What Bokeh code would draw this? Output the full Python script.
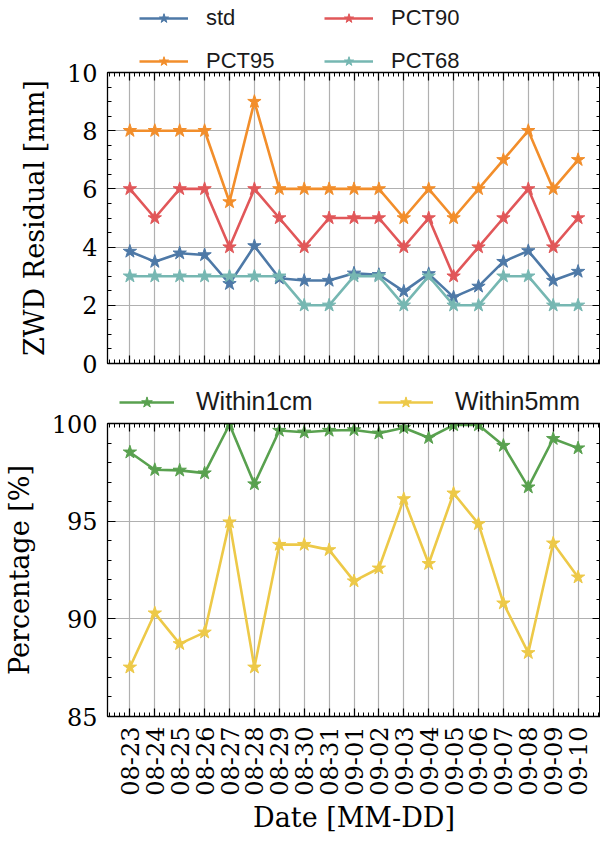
import numpy as np
from bokeh.plotting import figure
from bokeh.models import Range1d, LinearAxis, FixedTicker, Legend, LegendItem
from bokeh.layouts import column
from bokeh.embed import file_html
from bokeh.resources import INLINE

dates = ["08-23", "08-24", "08-25", "08-26", "08-27", "08-28", "08-29", "08-30", "08-31",
         "09-01", "09-02", "09-03", "09-04", "09-05", "09-06", "09-07", "09-08", "09-09", "09-10"]
std = [3.85, 3.50, 3.79, 3.73, 2.74, 4.04, 2.93, 2.85, 2.85, 3.10, 3.05, 2.48, 3.08, 2.28, 2.65, 3.50, 3.87, 2.85, 3.16]
pct95 = [8, 8, 8, 8, 5.55, 9, 6, 6, 6, 6, 6, 5, 6, 5, 6, 7, 8, 6, 7]
pct90 = [6, 5, 6, 6, 4, 6, 5, 4, 5, 5, 5, 4, 5, 3, 4, 5, 6, 4, 5]
pct68 = [3, 3, 3, 3, 3, 3, 3, 2, 2, 3, 3, 2, 3, 2, 2, 3, 3, 2, 2]
within1cm = [98.53, 97.63, 97.60, 97.46, 99.95, 96.90, 99.64, 99.55, 99.64, 99.67, 99.50, 99.78,
             99.27, 99.92, 99.92, 98.87, 96.74, 99.22, 98.74]
within5mm = [87.52, 90.29, 88.72, 89.31, 94.95, 87.52, 93.80, 93.80, 93.53, 91.93, 92.59, 96.14,
             92.82, 96.43, 94.86, 90.80, 88.26, 93.87, 92.13]
top_yticks = [0, 2, 4, 6, 8, 10]
bot_yticks = [85, 90, 95, 100]

x = list(range(len(dates)))

C_STD = "#4e79a7"
C_95 = "#f28e2b"
C_90 = "#e15759"
C_68 = "#76b7b2"
C_1CM = "#59a14f"
C_5MM = "#edc948"

SERIF = "DejaVu Serif"
SANS = "Liberation Sans"
LEFT = 92

x_ticker = FixedTicker(ticks=x, minor_ticks=list(np.round(np.arange(-0.8, 18.81, 0.2), 3)))


def style_axis(ax, show_labels, ticker):
    ax.ticker = ticker
    ax.axis_line_color = "black"
    ax.axis_line_width = 1.3
    ax.major_tick_in = 8
    ax.major_tick_out = 0
    ax.minor_tick_in = 4
    ax.minor_tick_out = 0
    ax.major_tick_line_color = "black"
    ax.major_tick_line_width = 1.2
    ax.minor_tick_line_color = "black"
    ax.minor_tick_line_width = 1.0
    if show_labels:
        ax.major_label_text_font = SERIF
        ax.major_label_text_font_size = "24px"
        ax.major_label_text_color = "black"
        ax.major_label_standoff = 10
    else:
        ax.major_label_overrides = {t: "" for t in ticker.ticks}
        ax.major_label_text_font_size = "1px"
        ax.major_label_standoff = 0


def make_fig(height, yr, yticker, b_top, b_bottom, ylabel, show_xlabels, margin_top):
    p = figure(width=600, height=height, x_range=Range1d(-0.9, 18.9), y_range=yr,
               output_backend="svg", toolbar_location=None, margin=(margin_top, 0, 0, 0),
               min_border_left=LEFT, min_border_right=0, min_border_top=b_top, min_border_bottom=b_bottom)
    p.outline_line_color = "black"
    p.background_fill_color = "white"
    p.border_fill_alpha = 0
    xb = p.below[0]
    yl = p.left[0]
    style_axis(xb, show_xlabels, x_ticker)
    style_axis(yl, True, yticker)
    yl.axis_label = ylabel
    yl.axis_label_text_font = SERIF
    yl.axis_label_text_font_size = "27px"
    yl.axis_label_text_font_style = "normal"
    yl.axis_label_text_color = "black"
    yl.axis_label_standoff = 14
    top_ax = LinearAxis()
    right_ax = LinearAxis()
    style_axis(top_ax, False, x_ticker)
    style_axis(right_ax, False, yticker)
    p.add_layout(top_ax, "above")
    p.add_layout(right_ax, "right")
    p.xgrid.ticker = x_ticker
    p.ygrid.ticker = yticker
    for g in (p.xgrid[0], p.ygrid[0]):
        g.grid_line_color = "#b0b0b0"
        g.grid_line_width = 1.2
    return p, xb


def draw_series(p, series):
    items = []
    for name, vals, col in series:
        l = p.line(x, vals, line_color=col, line_width=2.6)
        s = p.scatter(x, vals, marker="star", size=14, fill_color=col, line_color=col)
        items.append(LegendItem(label=name, renderers=[l, s]))
    return items


def legend_fig(height, series, loc, orientation, ncols, gw, gh, lw, standoff, spacing, fsize):
    # legend host: same series, drawn through ranges that keep them out of view
    f = figure(width=600, height=height, x_range=Range1d(-0.9, 18.9), y_range=Range1d(1000, 1001),
               x_axis_type=None, y_axis_type=None, output_backend="svg", toolbar_location=None,
               min_border=0, min_border_left=LEFT, min_border_right=0, min_border_top=0, min_border_bottom=0)
    f.outline_line_color = None
    f.background_fill_alpha = 0
    f.border_fill_alpha = 0
    f.grid.visible = False
    items = draw_series(f, series)
    leg = Legend(items=items, orientation=orientation, ncols=ncols, location=loc,
                 glyph_width=gw, glyph_height=gh, label_height=gh, label_standoff=standoff,
                 label_width=lw, spacing=spacing, padding=0, margin=0, border_line_color=None,
                 background_fill_alpha=0, label_text_font=SANS, label_text_font_size=fsize,
                 label_text_color="#1a1a1a")
    f.add_layout(leg, "center")
    return f


top_series = [("std", std, C_STD), ("PCT95", pct95, C_95), ("PCT90", pct90, C_90), ("PCT68", pct68, C_68)]
bot_series = [("Within1cm", within1cm, C_1CM), ("Within5mm", within5mm, C_5MM)]

# ---------- top legend + panel ----------
lf1 = legend_fig(80, top_series, (32, 6), "vertical", 2, 49, 24, 101, 18, 17, "22px")
p1, xb1 = make_fig(322, Range1d(0, 10), FixedTicker(ticks=top_yticks,
                   minor_ticks=list(np.arange(0, 10.01, 0.5))), 16, 15, "ZWD Residual [mm]", False, -24)
draw_series(p1, top_series)

# ---------- bottom legend + panel ----------
lf2 = legend_fig(60, bot_series, (12, 22), "horizontal", "auto", 55, 28, 160, 22, 22, "25px")
p2, xb2 = make_fig(428, Range1d(85, 100), FixedTicker(ticks=bot_yticks,
                   minor_ticks=list(np.arange(85, 100.01, 1))), 16, 119, "Percentage [%]", True, -31)
xb2.major_label_overrides = {i: d for i, d in enumerate(dates)}
xb2.major_label_orientation = np.pi / 2
xb2.major_label_text_font_size = "24px"
xb2.major_label_standoff = 10
xb2.axis_label = "Date [MM-DD]"
xb2.axis_label_text_font = SERIF
xb2.axis_label_text_font_size = "27px"
xb2.axis_label_text_font_style = "normal"
xb2.axis_label_text_color = "black"
xb2.axis_label_standoff = 3
draw_series(p2, bot_series)

layout = column(lf1, p1, lf2, p2, spacing=0)
open("out.html", "w").write(file_html(layout, INLINE))
